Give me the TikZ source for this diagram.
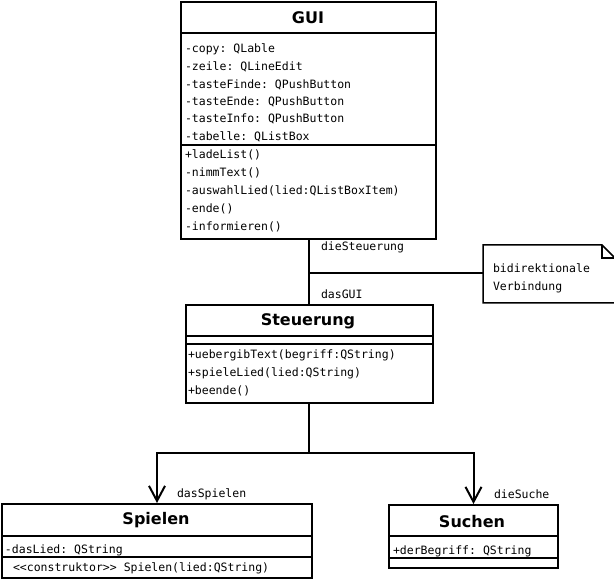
\documentclass[tikz,border=0pt]{standalone}
\usepackage{fontspec}
\setmainfont{DejaVu Sans}
\setmonofont{DejaVu Sans Mono}
\usetikzlibrary{arrows.meta}
\begin{document}
\begin{tikzpicture}[x=1pt,y=-1pt,line width=2pt,
  cls/.style={draw,line width=2pt,anchor=north west,inner sep=0pt},
  ttl/.style={font=\fontsize{16}{16}\selectfont\bfseries,inner sep=0pt},
  mem/.style={font=\fontsize{11.5}{12}\selectfont\ttfamily,anchor=west,inner sep=0pt},
  conn/.style={line width=2pt},
  arr/.style={conn,-{Straight Barb[length=15pt,width=16pt]}}
]
\useasboundingbox (0,0) rectangle (614,580);
\fill[white] (0,0) rectangle (614,580);

% GUI
\node[cls,minimum width=255pt,minimum height=237pt] (gui) at (180,1) {};
\node[ttl] (guit) at (308,18) {GUI};
\draw (gui.west |- 0,33) -- (gui.east |- 0,33);
\draw (gui.west |- 0,145) -- (gui.east |- 0,145);
\node[mem] (g1) at (184,49) {-copy: QLable};
\node[mem] (g2) at (184,67) {-zeile: QLineEdit};
\node[mem] (g3) at (184,85) {-tasteFinde: QPushButton};
\node[mem] (g4) at (184,102) {-tasteEnde: QPushButton};
\node[mem] (g5) at (184,119) {-tasteInfo: QPushButton};
\node[mem] (g6) at (184,137) {-tabelle: QListBox};
\node[mem] (g7) at (184,155) {+ladeList()};
\node[mem] (g8) at (184,173) {-nimmText()};
\node[mem] (g9) at (184,191) {-auswahlLied(lied:QListBoxItem)};
\node[mem] (g10) at (184,209) {-ende()};
\node[mem] (g11) at (184,227) {-informieren()};

% Steuerung
\node[cls,minimum width=247pt,minimum height=98pt] (steu) at (185,304) {};
\node[ttl] (steut) at (308,321) {Steuerung};
\draw (steu.west |- 0,336) -- (steu.east |- 0,336);
\draw (steu.west |- 0,344) -- (steu.east |- 0,344);
\node[mem] (s1) at (187,355) {+uebergibText(begriff:QString)};
\node[mem] (s2) at (187,373) {+spieleLied(lied:QString)};
\node[mem] (s3) at (187,391) {+beende()};

% Spielen
\node[cls,minimum width=310pt,minimum height=74pt] (spiel) at (1,503) {};
\node[ttl] (spielt) at (156,520) {Spielen};
\draw (spiel.west |- 0,536) -- (spiel.east |- 0,536);
\draw (spiel.west |- 0,557) -- (spiel.east |- 0,557);
\node[mem] (p1) at (4,550) {-dasLied: QString};
\node[mem] (p2) at (12,568) {<<construktor>> Spielen(lied:QString)};

% Suchen
\node[cls,minimum width=169pt,minimum height=63pt] (such) at (388,504) {};
\node[ttl] (sucht) at (472,522) {Suchen};
\draw (such.west |- 0,536) -- (such.east |- 0,536);
\draw (such.west |- 0,558) -- (such.east |- 0,558);
\node[mem] (u1) at (392,551) {+derBegriff: QString};

% note
\node[inner sep=0pt,minimum width=130pt,minimum height=56pt,anchor=north west] (note) at (483,245) {};
\draw[line width=1.5pt] (note.north west) -- ([xshift=-13pt]note.north east)
  -- ([yshift=-13pt]note.north east) -- (note.south east) -- (note.south west) -- cycle;
\draw[line width=1.5pt] ([xshift=-13pt]note.north east) |- ([yshift=-13pt]note.north east);
\node[mem] (n1) at (492,268) {bidirektionale};
\node[mem] (n2) at (492,287) {Verbindung};

% connectors
\coordinate (gs) at ([xshift=0.5pt]gui.south);
\coordinate (sn) at (gs |- steu.north);
\coordinate (ss) at (gs |- steu.south);
\coordinate (m) at (gs |- 0,273);
\coordinate (j) at (gs |- 0,453);
\draw[conn] (gs) -- (sn);
\draw[conn] (m) -- (m -| note.west);
\draw[conn] (ss) -- (j);
\draw[arr] (j) -| (spiel.north);
\draw[arr] (j) -| (such.north);

% labels
\node[mem] (l1) at (320,247) {dieSteuerung};
\node[mem] (l2) at (320,294) {dasGUI};
\node[mem] (l3) at (176,494) {dasSpielen};
\node[mem] (l4) at (493,494) {dieSuche};
\end{tikzpicture}
\end{document}
